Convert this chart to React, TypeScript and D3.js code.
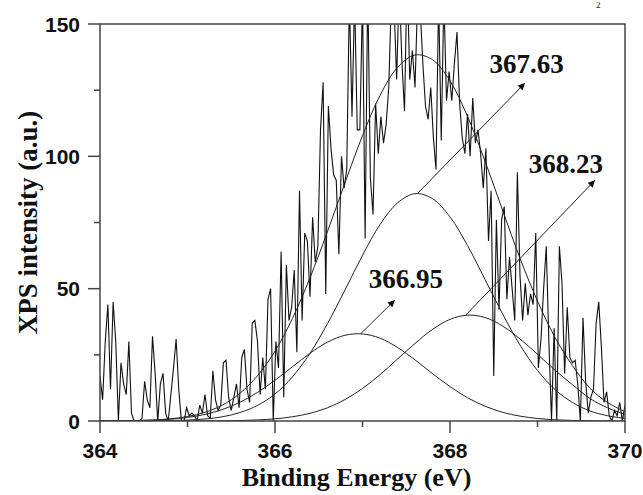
import React from 'react';
import * as d3 from 'd3';

const W = 643;
const H = 495;
const margin = { left: 100, right: 18, top: 24, bottom: 74 };

const xMajor = [364, 366, 368, 370];
const xMinor = [365, 367, 369];
const yMajor = [0, 50, 100, 150];
const yMinor = [25, 75, 125];

// raw spectrum, 364.00 eV .. 370.00 eV in 0.03 eV steps
const specStart = 364;
const specStep = 0.03;
const counts = [
  17, 8, 30, 44, 12, 45, 30, 0, 22, 14, 10, 30, 3, 0, 0, 0, 1, 15, 8, 5, 32, 18, 0, 14, 18, 3, 0, 10, 20, 31, 12, 0, 0,
  5, 2, 3, 2, 0, 6, 3, 10, 2, 1, 19, 8, 4, 6, 22, 23, 9, 4, 9, 14, 5, 24, 27, 12, 7, 37, 38, 30, 10, 24, 12, 46, 50,
  0, 30, 20, 64, 9, 59, 38, 43, 57, 26, 87, 38, 71, 68, 47, 77, 60, 66, 110, 128, 48, 119, 103, 93, 91, 63, 100, 88, 95, 160, 115, 160, 110, 110,
  160, 69, 165, 92, 78, 120, 101, 115, 105, 112, 126, 160, 158, 129, 165, 136, 117, 170, 129, 140, 126, 160, 155, 135, 119, 114, 126, 107, 95, 160, 106, 160, 121,
  132, 121, 135, 147, 120, 107, 101, 116, 100, 122, 105, 110, 101, 88, 103, 68, 87, 17, 76, 42, 76, 81, 46, 62, 50, 38, 94, 55, 38, 52, 40, 48, 44, 71,
  20, 31, 50, 66, 30, 0, 35, 0, 66, 52, 18, 43, 24, 22, 23, 14, 0, 39, 15, 3, 9, 12, 37, 45, 28, 7, 11, 2, 0, 4, 2, 7, 0, 6,
];

// fitted curves, 364.0 .. 370.0 eV in 0.2 eV steps
const fitStart = 364;
const fitStep = 0.2;
const peak1 = [0.02, 0.06, 0.14, 0.31, 0.67, 1.34, 2.5, 4.35, 7.1, 10.8, 15.4, 20.5, 25.6, 29.8, 32.4, 32.9, 31.3, 27.8, 23.1, 17.9, 13.0, 8.8, 5.6, 3.3, 1.84, 0.95, 0.46, 0.21, 0.09, 0.04, 0.01];
const peak2 = [0, 0.01, 0.02, 0.05, 0.14, 0.34, 0.76, 1.6, 3.2, 5.9, 10.2, 16.7, 25.6, 36.8, 49.5, 62.6, 74.2, 82.4, 85.9, 84.0, 77.1, 66.3, 53.5, 40.5, 28.7, 19.1, 11.9, 7.0, 3.8, 2.0, 0.95];
const peak3 = [0, 0, 0, 0, 0, 0.01, 0.03, 0.07, 0.18, 0.4, 0.82, 1.6, 2.9, 5.0, 8.1, 12.3, 17.5, 23.4, 29.3, 34.6, 38.4, 40.0, 39.1, 35.9, 31.0, 25.2, 19.2, 13.7, 8.5, 5.0, 2.5];
const envelope = [0.02, 0.07, 0.16, 0.36, 0.81, 1.69, 3.29, 6.02, 10.5, 17.1, 26.4, 38.8, 54.1, 71.6, 90.0, 107.8, 123.0, 133.6, 138.3, 136.5, 128.5, 115.1, 98.2, 79.7, 61.5, 45.3, 31.6, 20.9, 12.4, 7.0, 3.5];

// peak labels: arrow from -> to, text at
const notes = [
  { label: '367.63', from: [367.63, 86], to: [368.857, 127.7], at: [368.45, 131.5] },
  { label: '368.23', from: [368.18, 40], to: [369.657, 91], at: [368.9, 93.7] },
  { label: '366.95', from: [366.98, 33], to: [367.37, 45.7], at: [367.07, 50.2] },
];

export default function App() {
  const x = d3.scaleLinear().domain([364, 370]).range([margin.left, W - margin.right]);
  const y = d3.scaleLinear().domain([0, 150]).range([H - margin.bottom, margin.top]);
  const x0 = x.range()[0], x1 = x.range()[1];
  const y0 = y.range()[0], y1 = y.range()[1];

  const spec = counts.map((v, i) => [specStart + i * specStep, v]);
  const fitLine = d3.line<number>()
    .x((_, i) => x(fitStart + i * fitStep))
    .y((d) => y(d))
    .curve(d3.curveCatmullRom);
  const specLine = d3.line<number[]>().x((d) => x(d[0])).y((d) => y(d[1]));

  return (
    <svg width={W} height={H} style={{ position: 'absolute', left: 0, top: 0, background: '#fff' }}>
      <defs>
        <clipPath id="plot">
          <rect x={x0} y={y1} width={x1 - x0} height={y0 - y1} />
        </clipPath>
        <marker id="head" viewBox="0 0 10 10" refX="10" refY="5" markerWidth="9" markerHeight="7" orient="auto" markerUnits="userSpaceOnUse">
          <path d="M0,0 L10,5 L0,10 z" fill="#111" />
        </marker>
      </defs>

      <g clipPath="url(#plot)">
        <path d={specLine(spec) || ''} fill="none" stroke="#111" strokeWidth={1.1} />
        {[peak1, peak2, peak3, envelope].map((c, k) => (
          <path key={k} d={fitLine(c) || ''} fill="none" stroke="#222" strokeWidth={1} />
        ))}
      </g>

      {notes.map((n) => (
        <g key={n.label}>
          <line x1={x(n.from[0])} y1={y(n.from[1])} x2={x(n.to[0])} y2={y(n.to[1])} stroke="#222" strokeWidth={1} markerEnd="url(#head)" />
          <text x={x(n.at[0])} y={y(n.at[1])} fontFamily="Liberation Serif" fontWeight="bold" fontSize={27} fill="#111">{n.label}</text>
        </g>
      ))}

      <rect x={x0} y={y1} width={x1 - x0} height={y0 - y1} fill="none" stroke="#444" strokeWidth={1.5} />

      {yMajor.map((t) => (
        <g key={'ym' + t}>
          <line x1={x0 - 12} x2={x0} y1={y(t)} y2={y(t)} stroke="#444" strokeWidth={1.5} />
          <text x={x0 - 20} y={y(t)} dy="0.36em" textAnchor="end" fontFamily="Liberation Sans" fontWeight="bold" fontSize={21} fill="#111">{t}</text>
        </g>
      ))}
      {yMinor.map((t) => (
        <line key={'yn' + t} x1={x0 - 6} x2={x0} y1={y(t)} y2={y(t)} stroke="#444" strokeWidth={1.5} />
      ))}
      {xMajor.map((t) => (
        <g key={'xm' + t}>
          <line x1={x(t)} x2={x(t)} y1={y0} y2={y0 + 12} stroke="#444" strokeWidth={1.5} />
          <text x={x(t)} y={y0 + 37} textAnchor="middle" fontFamily="Liberation Sans" fontWeight="bold" fontSize={21} fill="#111">{t}</text>
        </g>
      ))}
      {xMinor.map((t) => (
        <line key={'xn' + t} x1={x(t)} x2={x(t)} y1={y0} y2={y0 + 6} stroke="#444" strokeWidth={1.5} />
      ))}

      <text x={(x0 + x1) / 2 - 6} y={486} textAnchor="middle" fontFamily="Liberation Serif" fontWeight="bold" fontSize={26} fill="#111">Binding Energy (eV)</text>
      <text transform={`translate(37, ${(y0 + y1) / 2}) rotate(-90)`} textAnchor="middle" fontFamily="Liberation Serif" fontWeight="bold" fontSize={27} fill="#111">XPS intensity (a.u.)</text>
      <text x={596} y={8} fontFamily="Liberation Serif" fontSize={9} fill="#111">2</text>
    </svg>
  );
}
